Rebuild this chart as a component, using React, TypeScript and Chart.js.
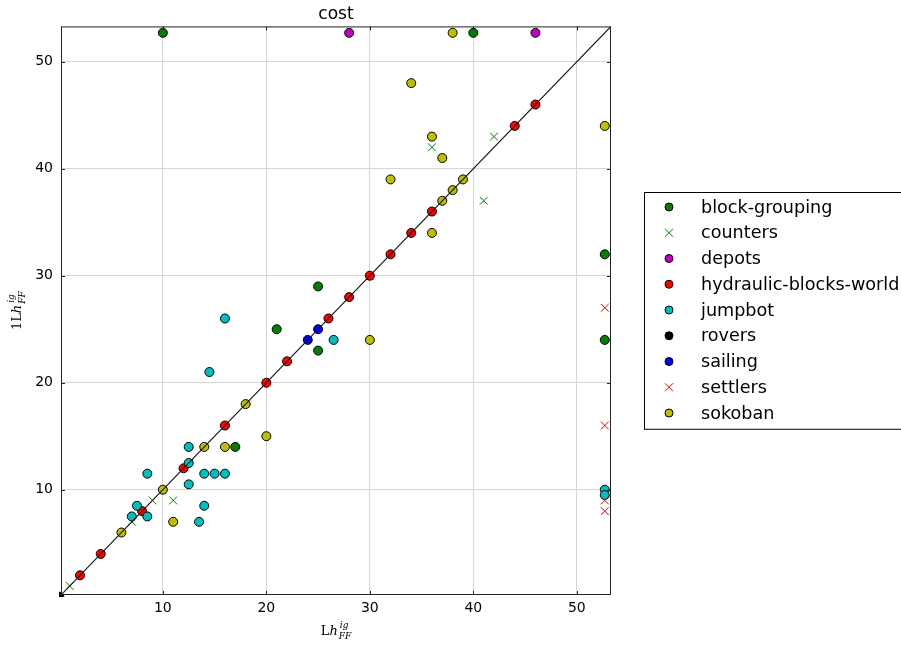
import React, { useEffect, useRef } from "react";
import { Chart, registerables } from "chart.js";

Chart.register(...registerables);

// ---- data ----
const TIMEOUT = 52.7;
const AXIS_MIN = 0.16;
const AXIS_MAX = 53.3;
const TICK_VALUES = [10, 20, 30, 40, 50];
const TITLE = "cost";

const blockGroupingX = [10, 40, TIMEOUT, TIMEOUT, 21, 25, 25, 17];
const blockGroupingY = [TIMEOUT, TIMEOUT, 32, 24, 25, 29, 23, 14];

const countersX = [1, 7, 9, 11, 36, 42, 41];
const countersY = [1, 7, 9, 9, 42, 43, 37];

const depotsX = [28, 46];
const depotsY = [TIMEOUT, TIMEOUT];

const hydraulicX = [2, 4, 8, 12, 16, 20, 22, 26, 28, 30, 32, 34, 36, 44, 46];
const hydraulicY = [2, 4, 8, 12, 16, 20, 22, 26, 28, 30, 32, 34, 36, 44, 46];

const jumpbotX = [7, 7.5, 8.5, 8.5, 12.5, 12.5, 12.5, 13.5, 14, 14, 15, 16, 14.5, 16, 26.5, TIMEOUT, TIMEOUT];
const jumpbotY = [7.5, 8.5, 11.5, 7.5, 14, 12.5, 10.5, 7, 8.5, 11.5, 11.5, 11.5, 21, 26, 24, 10, 9.5];

const roversX = [0];
const roversY = [0];

const sailingX = [24, 25];
const sailingY = [24, 25];

const settlersX = [TIMEOUT, TIMEOUT, TIMEOUT, TIMEOUT, 20, 30];
const settlersY = [27, 16, 9, 8, 20, 30];

const sokobanX = [6, 10, 11, 14, 16, 18, 20, 30, 32, 34, 36, 36, 37, 37, 38, 39, 38, TIMEOUT];
const sokobanY = [6, 10, 7, 14, 14, 18, 15, 24, 39, 48, 43, 34, 41, 37, 38, 39, TIMEOUT, 44];

type Series = { label: string; xs: number[]; ys: number[]; color: string; marker: "circle" | "x" };

const SERIES: Series[] = [
  { label: "block-grouping", xs: blockGroupingX, ys: blockGroupingY, color: "#007f00", marker: "circle" },
  { label: "counters", xs: countersX, ys: countersY, color: "#008000", marker: "x" },
  { label: "depots", xs: depotsX, ys: depotsY, color: "#bf00bf", marker: "circle" },
  { label: "hydraulic-blocks-world", xs: hydraulicX, ys: hydraulicY, color: "#ff0000", marker: "circle" },
  { label: "jumpbot", xs: jumpbotX, ys: jumpbotY, color: "#00bfbf", marker: "circle" },
  { label: "rovers", xs: roversX, ys: roversY, color: "#000000", marker: "circle" },
  { label: "sailing", xs: sailingX, ys: sailingY, color: "#0000ff", marker: "circle" },
  { label: "settlers", xs: settlersX, ys: settlersY, color: "#ff0000", marker: "x" },
  { label: "sokoban", xs: sokobanX, ys: sokobanY, color: "#bfbf00", marker: "circle" },
];

const FONT = '"DejaVu Sans", "Liberation Sans", sans-serif';
const SERIF = '"DejaVu Serif", "Liberation Serif", serif';

function drawMathLabel(ctx: CanvasRenderingContext2D, cx: number, cy: number, pre: string, rotate: boolean) {
  const main = 13;
  const scr = 9;
  ctx.save();
  ctx.translate(cx, cy);
  if (rotate) ctx.rotate(-Math.PI / 2);
  ctx.fillStyle = "#000";
  ctx.textBaseline = "alphabetic";
  ctx.textAlign = "left";
  ctx.font = `${main}px ${SERIF}`;
  const wPre = ctx.measureText(pre).width;
  ctx.font = `italic ${main}px ${SERIF}`;
  const wH = ctx.measureText("h").width;
  ctx.font = `italic ${scr}px ${SERIF}`;
  const wIg = ctx.measureText("ig").width;
  const wFF = ctx.measureText("FF").width;
  const total = wPre + wH + 1 + Math.max(wIg, wFF);
  let x = -total / 2;
  const base = main * 0.3;
  ctx.font = `${main}px ${SERIF}`;
  ctx.fillText(pre, x, base);
  x += wPre;
  ctx.font = `italic ${main}px ${SERIF}`;
  ctx.fillText("h", x, base);
  x += wH + 1;
  ctx.font = `italic ${scr}px ${SERIF}`;
  ctx.fillText("ig", x + 1, base - main * 0.5);
  ctx.fillText("FF", x, base + main * 0.3);
  ctx.restore();
}

function drawMarker(ctx: CanvasRenderingContext2D, x: number, y: number, marker: string, color: string, r: number) {
  ctx.save();
  if (marker === "x") {
    ctx.strokeStyle = color;
    ctx.lineWidth = 1;
    ctx.beginPath();
    ctx.moveTo(x - r, y - r);
    ctx.lineTo(x + r, y + r);
    ctx.moveTo(x - r, y + r);
    ctx.lineTo(x + r, y - r);
    ctx.stroke();
  } else {
    ctx.fillStyle = color;
    ctx.strokeStyle = "#000";
    ctx.lineWidth = 1;
    ctx.beginPath();
    ctx.arc(x, y, r, 0, Math.PI * 2);
    ctx.fill();
    ctx.stroke();
  }
  ctx.restore();
}

const decorPlugin = {
  id: "decor",
  afterDraw(chart: any) {
    const ctx: CanvasRenderingContext2D = chart.ctx;
    const { left, right, top, bottom } = chart.chartArea;
    const xs = chart.scales.x;
    const ys = chart.scales.y;
    // frame
    ctx.save();
    ctx.strokeStyle = "#222";
    ctx.lineWidth = 1;
    ctx.strokeRect(left + 0.5, top + 0.5, right - left - 1, bottom - top - 1);
    // inward ticks
    ctx.beginPath();
    for (const v of TICK_VALUES) {
      const px = Math.round(xs.getPixelForValue(v)) + 0.5;
      ctx.moveTo(px, bottom);
      ctx.lineTo(px, bottom - 4);
      ctx.moveTo(px, top);
      ctx.lineTo(px, top + 4);
      const py = Math.round(ys.getPixelForValue(v)) + 0.5;
      ctx.moveTo(left, py);
      ctx.lineTo(left + 4, py);
      ctx.moveTo(right, py);
      ctx.lineTo(right - 4, py);
    }
    ctx.stroke();
    ctx.restore();

    // axis labels
    drawMathLabel(ctx, (left + right) / 2, 631, "L", false);
    drawMathLabel(ctx, 17, (top + bottom) / 2, "1L", true);

    // legend
    const boxLeft = 644.5;
    const boxTop = 192.5;
    const rowH = 25.75;
    const items = chart.data.datasets.filter((d: any) => d.showInLegend);
    const boxBottom = boxTop + items.length * rowH + 5;
    ctx.save();
    ctx.fillStyle = "#fff";
    ctx.fillRect(boxLeft, boxTop, 300, boxBottom - boxTop);
    ctx.strokeStyle = "#000";
    ctx.lineWidth = 1;
    ctx.strokeRect(boxLeft, boxTop, 300, boxBottom - boxTop);
    ctx.font = `17.6px ${FONT}`;
    ctx.textBaseline = "middle";
    ctx.textAlign = "left";
    items.forEach((d: any, i: number) => {
      const cy = boxTop + 14.5 + i * rowH;
      drawMarker(ctx, 669, cy, d.markerKind, d.markerColor, 4);
      ctx.fillStyle = "#000";
      ctx.fillText(d.label, 701, cy + 1);
    });
    ctx.restore();
  },
};

export default function App() {
  const canvasRef = useRef<HTMLCanvasElement | null>(null);

  useEffect(() => {
    if (!canvasRef.current) return;
    const n = SERIES.length;
    const datasets: any[] = SERIES.map((s, i) => ({
      type: "scatter",
      label: s.label,
      showInLegend: true,
      markerKind: s.marker,
      markerColor: s.color,
      data: s.xs.map((x, j) => ({ x, y: s.ys[j] })),
      pointStyle: s.marker === "x" ? "crossRot" : "circle",
      pointRadius: s.marker === "x" ? 5.5 : 4.5,
      pointBackgroundColor: s.color,
      pointBorderColor: s.marker === "x" ? s.color : "#000",
      pointBorderWidth: 1,
      backgroundColor: s.color,
      borderColor: s.marker === "x" ? s.color : "#000",
      clip: s.label === "rovers" ? 2 : 0,
      order: n - i,
    }));
    datasets.push({
      type: "line",
      label: "y = x",
      showInLegend: false,
      data: [
        { x: 0, y: 0 },
        { x: AXIS_MAX, y: AXIS_MAX },
      ],
      borderColor: "#111",
      borderWidth: 1.1,
      pointRadius: 0,
      fill: false,
      clip: 0,
      order: -1,
    });

    const chart = new Chart(canvasRef.current, {
      type: "scatter",
      data: { datasets },
      options: {
        responsive: false,
        animation: false,
        devicePixelRatio: 1,
        layout: { padding: { left: 0, right: 290, top: 0, bottom: 0 } },
        plugins: {
          legend: { display: false },
          tooltip: { enabled: false },
          title: {
            display: true,
            text: TITLE,
            fullSize: false,
            color: "#000",
            font: { family: FONT, size: 17, weight: "normal" },
            padding: { top: 4, bottom: 2 },
          },
        },
        scales: {
          x: {
            type: "linear",
            min: AXIS_MIN,
            max: AXIS_MAX,
            afterFit: (scale: any) => {
              scale.height = 50;
            },
            grid: { color: "#d6d6d6", lineWidth: 1, drawTicks: false },
            border: { display: false },
            ticks: {
              stepSize: 10,
              includeBounds: false,
              padding: 5,
              color: "#000",
              font: { family: FONT, size: 14 },
              callback: (v: any) => (TICK_VALUES.includes(Number(v)) ? String(v) : ""),
            },
          },
          y: {
            type: "linear",
            min: AXIS_MIN,
            max: AXIS_MAX,
            afterFit: (scale: any) => {
              scale.width = 61;
            },
            grid: { color: "#d6d6d6", lineWidth: 1, drawTicks: false },
            border: { display: false },
            ticks: {
              stepSize: 10,
              includeBounds: false,
              padding: 8,
              color: "#000",
              font: { family: FONT, size: 14 },
              callback: (v: any) => (TICK_VALUES.includes(Number(v)) ? String(v) : ""),
            },
          },
        },
      },
      plugins: [decorPlugin],
    } as any);

    return () => chart.destroy();
  }, []);

  return (
    <div style={{ position: "fixed", left: 0, top: 0, width: 901, height: 645, background: "#fff" }}>
      <canvas ref={canvasRef} width={901} height={645} />
    </div>
  );
}
